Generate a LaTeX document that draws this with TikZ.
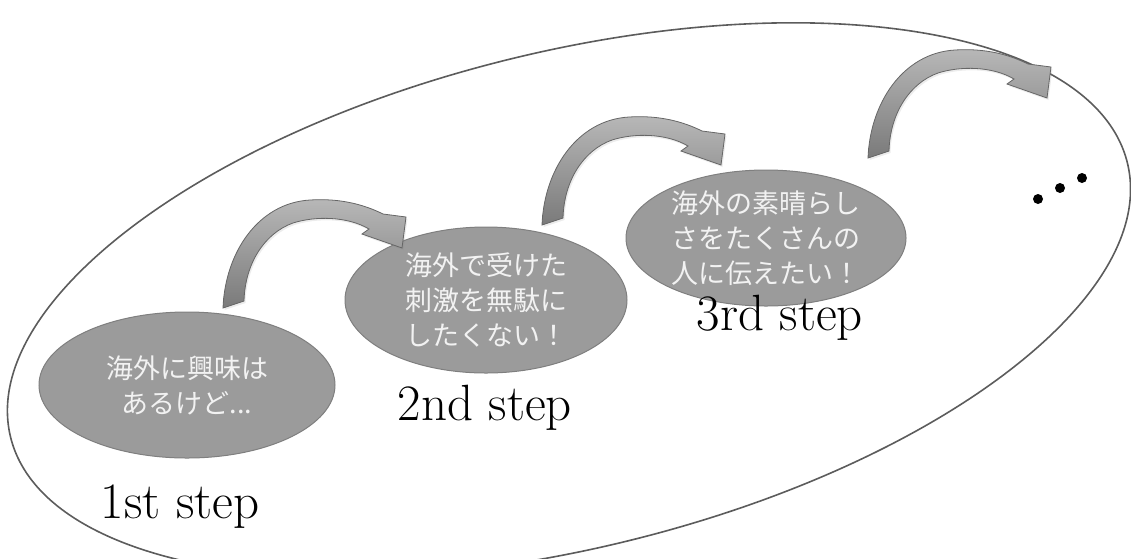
\documentclass[tikz,border=0pt]{standalone}
\usepackage{fontspec}
\newfontfamily\jpfont{Noto Sans CJK JP}
\usetikzlibrary{shapes.geometric,shadows}
\definecolor{outline}{HTML}{5C5C5C}
\definecolor{bubblefill}{HTML}{9B9B9B}
\definecolor{bubbleline}{HTML}{7F7F7F}
\definecolor{bubbletext}{HTML}{F2F2F2}
\definecolor{arrowtop}{HTML}{B8B8B8}
\definecolor{arrowbottom}{HTML}{7A7A7A}
\definecolor{arrowline}{HTML}{666666}

\begin{document}
\begin{tikzpicture}[x=1pt,y=-1pt,
    bubble/.style={ellipse,draw=bubbleline,fill=bubblefill,line width=1pt,inner sep=0pt,
        text=bubbletext,align=center,font=\jpfont\fontsize{27}{35}\selectfont},
    stepname/.style={anchor=base,font=\fontsize{51}{51}\selectfont},
    curvearrow/.style={draw=arrowline,line width=0.8pt,top color=arrowtop,bottom color=arrowbottom,
        drop shadow={opacity=0.15,shadow xshift=1.5pt,shadow yshift=-2pt}}]
    \useasboundingbox (0,0) rectangle (1131,558);
    \coordinate (O) at (569,300);
    \draw[line width=1.6pt,draw=outline,rotate around={13.8:(O)}] (O) ellipse [x radius=575pt,y radius=248pt];
    % the three steps
    \node[bubble,minimum width=296pt,minimum height=146pt] (one) at (187,385) {海外に興味は\\あるけど...};
    \node[bubble,minimum width=282pt,minimum height=146pt] (two) at (486,300) {海外で受けた\\刺激を無駄に\\したくない！};
    \node[bubble,minimum width=280pt,minimum height=136pt] (three) at (766,238) {海外の素晴らし\\さをたくさんの\\人に伝えたい！};
    \node[stepname] (first) at (180,518) {1st step};
    \node[stepname] (second) at (485,420) {2nd step};
    \node[stepname] (third) at (780,330) {3rd step};
    % curved arrows
    \foreach \tx/\ty in {223/308,542/225,868/158} {
        \begin{scope}[shift={(\tx,\ty)}]
            \path[curvearrow] (0,0) .. controls (2,-55) and (35,-105) .. (87,-108)
                .. controls (118,-110) and (142,-103) .. (160,-94)
                -- (183,-91) -- (179,-60) -- (139,-74) -- (146,-79)
                .. controls (124,-92) and (92,-92) .. (70,-85)
                .. controls (42,-75) and (22,-45) .. (21,-7) -- cycle;
        \end{scope}
    }
    % dots
    \foreach \dx/\dy in {1038/199,1060/188,1082/178}
        \fill (\dx,\dy) circle [radius=5pt];
\end{tikzpicture}
\end{document}
